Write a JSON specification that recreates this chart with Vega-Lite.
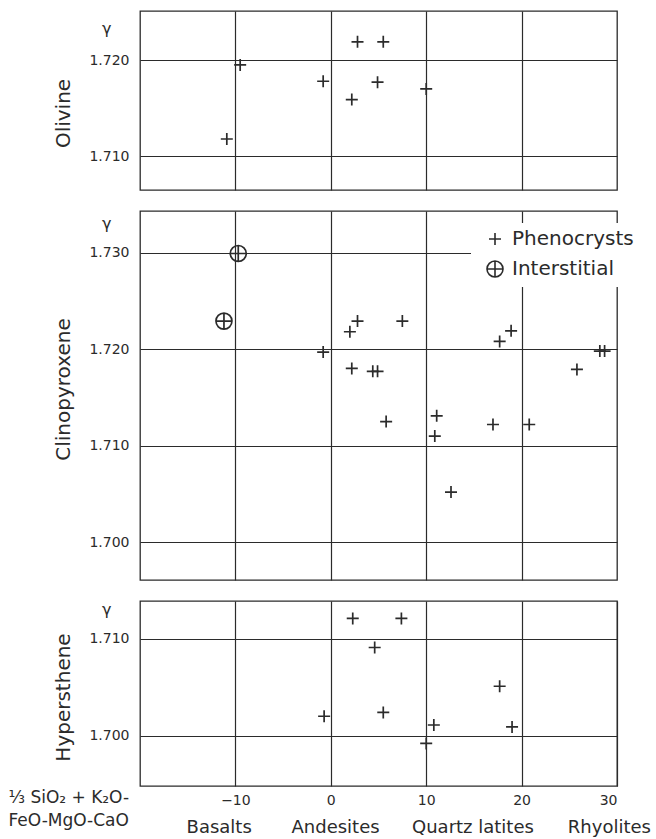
{
  "$schema": "https://vega.github.io/schema/vega-lite/v6.json",
  "padding": {"left": 7, "top": 10, "right": 5, "bottom": 5},
  "spacing": 19,
  "resolve": {"legend": {"shape": "independent"}, "scale": {"shape": "independent"}},
  "datasets": {
    "olivine": [
      {"x": -10.9, "y": 1.7118},
      {"x": -9.5, "y": 1.7195},
      {"x": -0.8, "y": 1.7178},
      {"x": 2.8, "y": 1.7219},
      {"x": 5.5, "y": 1.7219},
      {"x": 2.2, "y": 1.7159},
      {"x": 4.9, "y": 1.7177},
      {"x": 10.0, "y": 1.7170}
    ],
    "clino": [
      {"x": -9.7, "y": 1.7299, "type": "Interstitial"},
      {"x": -11.2, "y": 1.7229, "type": "Interstitial"},
      {"x": -0.8, "y": 1.7197, "type": "Phenocrysts"},
      {"x": 2.0, "y": 1.7218, "type": "Phenocrysts"},
      {"x": 2.8, "y": 1.7229, "type": "Phenocrysts"},
      {"x": 7.5, "y": 1.7229, "type": "Phenocrysts"},
      {"x": 17.7, "y": 1.7208, "type": "Phenocrysts"},
      {"x": 18.9, "y": 1.7219, "type": "Phenocrysts"},
      {"x": 28.2, "y": 1.7198, "type": "Phenocrysts"},
      {"x": 28.7, "y": 1.7198, "type": "Phenocrysts"},
      {"x": 2.2, "y": 1.7180, "type": "Phenocrysts"},
      {"x": 4.4, "y": 1.7177, "type": "Phenocrysts"},
      {"x": 4.9, "y": 1.7177, "type": "Phenocrysts"},
      {"x": 25.8, "y": 1.7179, "type": "Phenocrysts"},
      {"x": 5.8, "y": 1.7125, "type": "Phenocrysts"},
      {"x": 11.1, "y": 1.7131, "type": "Phenocrysts"},
      {"x": 17.0, "y": 1.7122, "type": "Phenocrysts"},
      {"x": 20.8, "y": 1.7122, "type": "Phenocrysts"},
      {"x": 10.9, "y": 1.7110, "type": "Phenocrysts"},
      {"x": 12.6, "y": 1.7052, "type": "Phenocrysts"}
    ],
    "hyper": [
      {"x": 2.3, "y": 1.7121},
      {"x": 7.4, "y": 1.7121},
      {"x": 4.6, "y": 1.7091},
      {"x": 17.7, "y": 1.7051},
      {"x": -0.7, "y": 1.7020},
      {"x": 5.5, "y": 1.7024},
      {"x": 10.8, "y": 1.7011},
      {"x": 19.0, "y": 1.7009},
      {"x": 10.0, "y": 1.6992}
    ],
    "names": [
      {"x": -11.7, "name": "Basalts"},
      {"x": 0.5, "name": "Andesites"},
      {"x": 14.9, "name": "Quartz latites"},
      {"x": 29.2, "name": "Rhyolites"}
    ]
  },
  "vconcat": [
    {
      "width": 477,
      "height": 179,
      "data": {"name": "olivine"},
      "mark": {"type": "point", "filled": false, "stroke": "#2b2b2b", "strokeWidth": 1.7, "size": 256, "opacity": 1, "shape": "M-0.75,0H0.75M0,-0.75V0.75"},
      "encoding": {
        "x": {"field": "x", "type": "quantitative", "scale": {"domain": [-20, 30], "nice": false, "zero": false},
              "axis": {"values": [-10, 0, 10, 20], "labels": false, "title": null, "grid": true}},
        "y": {"field": "y", "type": "quantitative", "scale": {"domain": [1.7065, 1.7251], "nice": false, "zero": false},
              "axis": {"values": [1.71, 1.72, 1.7233],
                       "labelExpr": "datum.value > 1.7225 ? 'γ' : format(datum.value, '.3f')",
                       "gridOpacity": {"condition": {"test": "datum.value > 1.7225", "value": 0}, "value": 1},
                       "labelPadding": {"condition": {"test": "datum.value > 1.7225", "value": 29}, "value": 11},
                       "labelFontSize": {"condition": {"test": "datum.value > 1.7225", "value": 16}, "value": 14},
                       "title": "Olivine", "titleX": -77, "titleY": 102, "titleBaseline": "middle", "titleAngle": -90}}
      }
    },
    {
      "width": 477,
      "height": 369,
      "data": {"name": "clino"},
      "mark": {"type": "point", "filled": false, "stroke": "#2b2b2b", "strokeWidth": 1.7, "size": 256, "opacity": 1},
      "encoding": {
        "x": {"field": "x", "type": "quantitative", "scale": {"domain": [-20, 30], "nice": false, "zero": false},
              "axis": {"values": [-10, 0, 10, 20], "labels": false, "title": null, "grid": true}},
        "y": {"field": "y", "type": "quantitative", "scale": {"domain": [1.6961, 1.7343], "nice": false, "zero": false},
              "axis": {"values": [1.70, 1.71, 1.72, 1.73, 1.733],
                       "labelExpr": "datum.value > 1.7315 ? 'γ' : format(datum.value, '.3f')",
                       "gridOpacity": {"condition": {"test": "datum.value > 1.7315", "value": 0}, "value": 1},
                       "labelPadding": {"condition": {"test": "datum.value > 1.7315", "value": 29}, "value": 11},
                       "labelFontSize": {"condition": {"test": "datum.value > 1.7315", "value": 16}, "value": 14},
                       "title": "Clinopyroxene", "titleX": -77, "titleY": 178, "titleBaseline": "middle", "titleAngle": -90}},
        "shape": {"field": "type", "type": "nominal",
                  "scale": {"domain": ["Phenocrysts", "Interstitial"],
                            "range": ["M-0.75,0H0.75M0,-0.75V0.75", "M-1,0A1,1,0,1,0,1,0A1,1,0,1,0,-1,0M-1,0H1M0,-1V1"]},
                  "legend": {"orient": "none", "legendX": 331, "legendY": 12, "title": null,
                             "fillColor": "white", "padding": 6, "symbolOffset": 8, "labelOffset": 7,
                             "labelFontSize": 20, "labelColor": "#2b2b2b", "rowPadding": 8,
                             "symbolSize": 256, "symbolStrokeWidth": 1.6, "symbolStrokeColor": "#2b2b2b",
                             "symbolFillColor": "transparent"}}
      }
    },
    {
      "width": 477,
      "height": 185,
      "layer": [
        {
          "data": {"name": "hyper"},
          "mark": {"type": "point", "filled": false, "stroke": "#2b2b2b", "strokeWidth": 1.7, "size": 256, "opacity": 1, "shape": "M-0.75,0H0.75M0,-0.75V0.75"},
          "encoding": {
            "x": {"field": "x", "type": "quantitative", "scale": {"domain": [-20, 30], "nice": false, "zero": false},
                  "axis": {"values": [-10, 0, 10, 20, 30], "grid": true, "labelPadding": 7, "labelFontSize": 14,
                           "title": ["⅓ SiO₂ + K₂O-", "FeO-MgO-CaO"], "titleX": -132, "titleY": 3,
                           "titleAlign": "left", "titleBaseline": "top", "titleFontSize": 17, "titleLineHeight": 23}},
            "y": {"field": "y", "type": "quantitative", "scale": {"domain": [1.6948, 1.7139], "nice": false, "zero": false},
                  "axis": {"values": [1.70, 1.71, 1.713],
                           "labelExpr": "datum.value > 1.7115 ? 'γ' : format(datum.value, '.3f')",
                           "gridOpacity": {"condition": {"test": "datum.value > 1.7115", "value": 0}, "value": 1},
                           "labelPadding": {"condition": {"test": "datum.value > 1.7115", "value": 29}, "value": 11},
                           "labelFontSize": {"condition": {"test": "datum.value > 1.7115", "value": 16}, "value": 14},
                           "title": "Hypersthene", "titleX": -77, "titleY": 96, "titleBaseline": "middle", "titleAngle": -90}}
          }
        },
        {
          "data": {"name": "names"},
          "mark": {"type": "text", "fontSize": 18, "color": "#2b2b2b", "baseline": "middle", "align": "center"},
          "encoding": {
            "x": {"field": "x", "type": "quantitative", "scale": {"domain": [-20, 30], "nice": false, "zero": false}},
            "y": {"datum": 1.69046, "type": "quantitative", "scale": {"domain": [1.6948, 1.7139], "nice": false, "zero": false}},
            "text": {"field": "name"}
          }
        }
      ]
    }
  ],
  "config": {
    "font": "DejaVu Sans",
    "view": {"stroke": "#2b2b2b", "strokeWidth": 1.3},
    "axis": {"gridColor": "#2b2b2b", "gridWidth": 1.2, "gridOpacity": 1, "domain": false, "ticks": false,
             "labelColor": "#2b2b2b", "titleColor": "#2b2b2b", "labelFontSize": 14,
             "titleFontWeight": "normal", "titleFontSize": 20, "labelFont": "DejaVu Sans", "titleFont": "DejaVu Sans"},
    "legend": {"labelFont": "DejaVu Sans"}
  }
}
